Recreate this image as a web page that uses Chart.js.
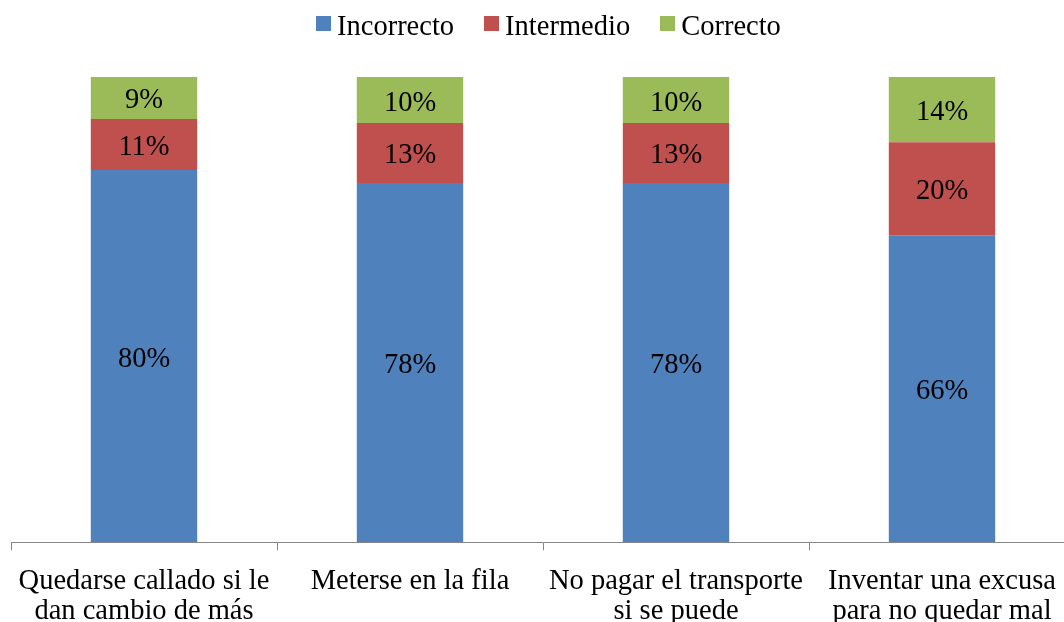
<!DOCTYPE html>
<html>
<head>
<meta charset="utf-8">
<script src="https://cdn.jsdelivr.net/npm/chart.js@4"></script>
<style>
	body { margin: 0; background: #fff; overflow: hidden; }
	#wrap { position: relative; width: 1064px; height: 622px; overflow: hidden; }
	#legend {
		position: absolute; top: 12px; left: 316px;
		display: flex; align-items: flex-start;
		font: 28.5px/28px 'Liberation Serif', 'Times New Roman', serif; color: #000;
		white-space: nowrap;
	}
	#legend .item { display: flex; align-items: flex-start; margin-right: 30px; }
	#legend .box { width: 15px; height: 15px; margin-top: 4px; margin-right: 6px; }
	canvas { position: absolute; top: 0; left: 0; }
</style>
</head>
<body>
<div id="wrap">
	<canvas id="chart" width="1075" height="622"></canvas>
	<div id="legend"></div>
</div>
<script>
// Categories and values
const categories = [
	["Quedarse callado si le", "dan cambio de más"],
	"Meterse en la fila",
	["No pagar el transporte", "si se puede"],
	["Inventar una excusa", "para no quedar mal"]
];
const incorrecto = [80, 78, 78, 66];
const intermedio = [11, 13, 13, 20];
const correcto = [9, 10, 10, 14];

const seriesNames = ["Incorrecto", "Intermedio", "Correcto"];
const seriesColors = ["#4F81BD", "#C0504D", "#9BBB59"];
const seriesValues = [incorrecto, intermedio, correcto];

// 100% stacked: each column is scaled to its own total
const totals = categories.map((c, i) => incorrecto[i] + intermedio[i] + correcto[i]);

const fontFamily = "'Liberation Serif', 'Times New Roman', serif";
Chart.defaults.font.family = fontFamily;
Chart.defaults.color = "#000";

// Legend as plain HTML above the canvas
const legend = document.getElementById("legend");
seriesNames.forEach((name, d) => {
	const item = document.createElement("div");
	item.className = "item";
	const box = document.createElement("span");
	box.className = "box";
	box.style.background = seriesColors[d];
	const text = document.createElement("span");
	text.textContent = name;
	item.appendChild(box);
	item.appendChild(text);
	legend.appendChild(item);
});

// Draws the percentage inside each segment
const segmentLabels = {
	id: 'segmentLabels',
	afterDatasetsDraw(chart) {
		const ctx = chart.ctx;
		ctx.save();
		ctx.font = "28.5px " + fontFamily;
		ctx.fillStyle = "#000";
		ctx.textAlign = "center";
		ctx.textBaseline = "middle";
		chart.data.datasets.forEach((ds, d) => {
			chart.getDatasetMeta(d).data.forEach((bar, i) => {
				ctx.fillText(seriesValues[d][i] + "%", bar.x, (bar.y + bar.base) / 2 + 3);
			});
		});
		ctx.restore();
	}
};

const chart = new Chart(document.getElementById("chart").getContext("2d"), {
	type: 'bar',
	data: {
		labels: categories,
		datasets: seriesNames.map((name, d) => ({
			label: name,
			data: seriesValues[d].map((v, i) => v / totals[i] * 100),
			backgroundColor: seriesColors[d],
			categoryPercentage: 1,
			barPercentage: 0.4
		}))
	},
	options: {
		responsive: false,
		animation: false,
		layout: {
			padding: { left: 11, right: 0, top: 77, bottom: -21 }
		},
		plugins: {
			tooltip: { enabled: false },
			legend: { display: false }
		},
		scales: {
			x: {
				stacked: true,
				border: { color: "#868686", width: 1 },
				grid: {
					offset: true,
					drawOnChartArea: false,
					drawTicks: true,
					tickLength: 8,
					color: "#868686"
				},
				ticks: {
					padding: 17,
					maxRotation: 0,
					font: { size: 28.5, lineHeight: 1.03 },
					color: "#000"
				}
			},
			y: {
				stacked: true,
				display: false,
				min: 0,
				max: 100
			}
		}
	},
	plugins: [segmentLabels]
});
</script>
</body>
</html>
